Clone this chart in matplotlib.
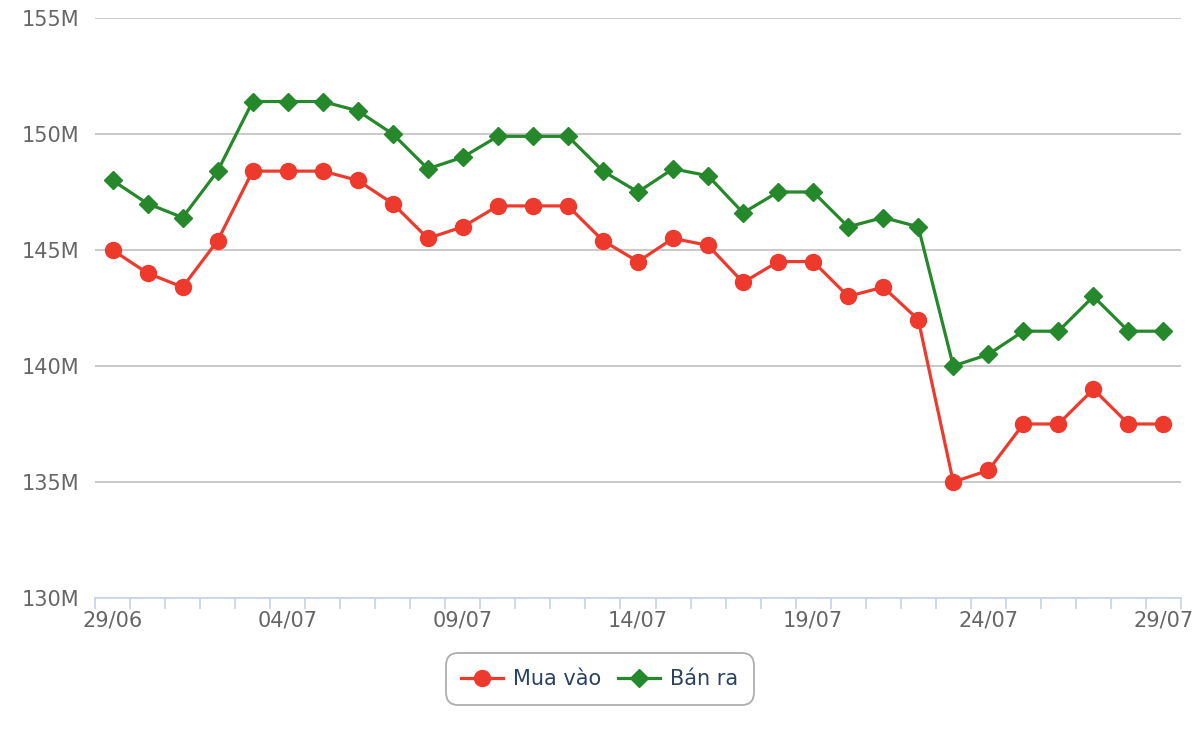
import matplotlib
matplotlib.use("Agg")
import matplotlib.pyplot as plt
import numpy as np

dates = ["29/06", "30/06", "01/07", "02/07", "03/07", "04/07", "05/07", "06/07",
         "07/07", "08/07", "09/07", "10/07", "11/07", "12/07", "13/07", "14/07",
         "15/07", "16/07", "17/07", "18/07", "19/07", "20/07", "21/07", "22/07",
         "23/07", "24/07", "25/07", "26/07", "27/07", "28/07", "29/07"]
mua_vao = [145.0, 144.0, 143.4, 145.4, 148.4, 148.4, 148.4, 148.0, 147.0, 145.5,
           146.0, 146.9, 146.9, 146.9, 145.4, 144.5, 145.5, 145.2, 143.6, 144.5,
           144.5, 143.0, 143.4, 142.0, 135.0, 135.5, 137.5, 137.5, 139.0, 137.5, 137.5]
ban_ra = [148.0, 147.0, 146.4, 148.4, 151.4, 151.4, 151.4, 151.0, 150.0, 148.5,
          149.0, 149.9, 149.9, 149.9, 148.4, 147.5, 148.5, 148.2, 146.6, 147.5,
          147.5, 146.0, 146.4, 146.0, 140.0, 140.5, 141.5, 141.5, 143.0, 141.5, 141.5]
y_ticks = [130, 135, 140, 145, 150, 155]

plt.rcParams['font.family'] = ['DejaVu Sans']
fig = plt.figure(figsize=(12, 7.4), dpi=100)
ax = fig.add_axes([95/1200, 1-598/740, (1181-95)/1200, (598-18)/740])

n = len(dates)
x = np.arange(n)
red = '#ee3a2c'
green = '#25882a'
ax.plot(x, mua_vao, color=red, lw=2.3, marker='o', ms=11.5, label='Mua vào', zorder=3)
ax.plot(x, ban_ra, color=green, lw=2.3, marker='D', ms=9.5, label='Bán ra', zorder=3)

ax.set_xlim(-0.5, n - 0.5)
ax.set_ylim(130, 155)
ax.set_yticks(y_ticks)
ax.set_yticklabels([f"{v}M" for v in y_ticks])
ax.grid(axis='y', color='#c0c0c0', lw=1.2)
ax.set_axisbelow(True)

# x ticks: marks at category boundaries, labels every 5 categories
ax.set_xticks(np.arange(-0.5, n, 1.0))
ax.set_xticklabels([])
ax.set_xticks(x[::5], minor=True)
ax.set_xticklabels([dates[i] for i in x[::5]], minor=True)
ax.tick_params(axis='x', which='major', length=8, width=1.3, color='#ccd6eb')
ax.tick_params(axis='x', which='minor', length=0, pad=9, labelsize=15, labelcolor='#666666')
ax.tick_params(axis='y', length=0, pad=11, labelsize=15, labelcolor='#666666')

for s in ['top', 'right', 'left']:
    ax.spines[s].set_visible(False)
ax.spines['bottom'].set_color('#ccd6eb')
ax.spines['bottom'].set_linewidth(1.3)

leg = ax.legend(loc='center', bbox_to_anchor=(600/1200, 1-679/740), bbox_transform=fig.transFigure,
                ncol=2, frameon=True, fontsize=15, handlelength=2.0, columnspacing=0.8,
                handletextpad=0.5, borderpad=0.55, fancybox=True, labelcolor='#2a4260')
frame = leg.get_frame()
frame.set_edgecolor('#999999')
frame.set_linewidth(1.3)
frame.set_boxstyle('round,pad=0.2,rounding_size=0.6')

fig.savefig('out.png', dpi=100)
